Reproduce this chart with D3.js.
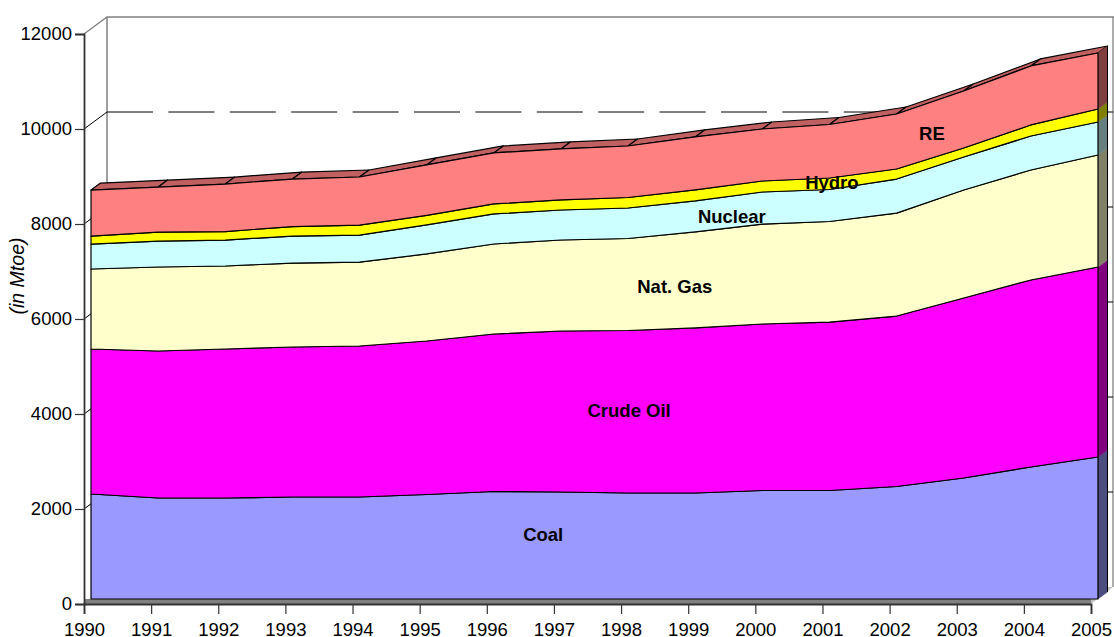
<!DOCTYPE html>
<html>
<head>
<meta charset="utf-8">
<script src="https://cdn.jsdelivr.net/npm/d3@7"></script>
<style>
    html, body { margin: 0; padding: 0; background: #fff; }
    svg { display: block; }
    text { font-family: "Liberation Sans", Arial, sans-serif; fill: #000; }
</style>
</head>
<body>
<div id="chart"></div>
<script>
// Values, in Mtoe
const years = [1990, 1991, 1992, 1993, 1994, 1995, 1996, 1997, 1998, 1999, 2000, 2001, 2002, 2003, 2004, 2005];
const coal = [2210, 2126, 2126, 2147, 2147, 2200, 2263, 2253, 2232, 2232, 2284, 2284, 2368, 2547, 2779, 2989];
const crudeOil = [3053, 3095, 3137, 3158, 3179, 3232, 3316, 3389, 3421, 3474, 3505, 3547, 3589, 3789, 3937, 4000];
const natGas = [1684, 1768, 1747, 1768, 1768, 1832, 1895, 1916, 1937, 2021, 2105, 2116, 2168, 2274, 2316, 2358];
const nuclear = [526, 547, 547, 568, 568, 611, 632, 632, 642, 653, 674, 674, 716, 695, 716, 695];
const hydro = [168, 189, 179, 200, 211, 200, 211, 211, 221, 232, 232, 242, 211, 189, 232, 274];
const re = [968, 947, 1000, 1000, 1011, 1063, 1074, 1074, 1084, 1116, 1095, 1126, 1158, 1200, 1242, 1179];

const seriesNames = ['Coal', 'Crude Oil', 'Nat. Gas', 'Nuclear', 'Hydro', 'RE'];
const seriesValues = [coal, crudeOil, natGas, nuclear, hydro, re];
const frontColors = ['#9999ff', '#ff00ff', '#ffffcc', '#ccffff', '#ffff00', '#ff8080'];
const sideColors = ['#4d4d80', '#800080', '#808066', '#668080', '#808000', '#804040'];
const yTicks = [0, 2000, 4000, 6000, 8000, 10000, 12000];

// Where the series names sit, in chart units (year, Mtoe)
const labelYears = [1996.84, 1998.12, 1998.8, 1999.65, 2001.14, 2002.63];
const labelValues = [1453, 4063, 6674, 8147, 8863, 9895];

const width = 1114;
const height = 637;

const x = d3.scalePoint().domain(years).range([84, 1091]);
const xLabel = d3.scaleLinear().domain([1990, 2005]).range([84, 1091]);
const y = d3.scaleLinear().domain([0, 12000]).range([604, 34]);

// Fake 3D offsets: the walls sit behind the axis, the areas in between
const wall = { dx: 23, dy: -17 };
const plane = { dx: 7, dy: -5 };
const depth = { dx: 9.5, dy: -7 };

const svg = d3.select('#chart').append('svg')
    .attr('width', width)
    .attr('height', height)
    .attr('viewBox', [0, 0, width, height]);

// Stack the series
const rows = years.map((year, i) => {
    const row = { year };
    seriesNames.forEach((name, s) => { row[name] = seriesValues[s][i]; });
    return row;
});
const stacked = d3.stack().keys(seriesNames)(rows);

const px = d => x(d.data.year) + plane.dx;

// --- Walls and floor ---
const wallColor = '#808080';
const wallRight = x(2005) + 22;
svg.append('path')
    .attr('d', `M${x(1990)},${y(12000)} L${x(1990) + wall.dx},${y(12000) + wall.dy} L${width},${y(12000) + wall.dy}`)
    .attr('fill', 'none').attr('stroke', wallColor).attr('stroke-width', 1.3);
svg.append('line')
    .attr('x1', x(1990) + wall.dx).attr('x2', x(1990) + wall.dx)
    .attr('y1', y(12000) + wall.dy).attr('y2', y(0) + wall.dy)
    .attr('stroke', wallColor).attr('stroke-width', 1.5);
svg.append('line')
    .attr('x1', wallRight).attr('x2', wallRight)
    .attr('y1', y(12000) + wall.dy).attr('y2', y(0) + wall.dy)
    .attr('stroke', wallColor).attr('stroke-width', 1.3);

// Floor
svg.append('path')
    .attr('d', `M${x(1990)},${y(0)} L${x(1990) + wall.dx},${y(0) + wall.dy} L${wallRight},${y(0) + wall.dy} L${x(2005)},${y(0)} Z`)
    .attr('fill', '#c0c0c0');
svg.append('rect')
    .attr('x', x(1990)).attr('y', y(0) - 5)
    .attr('width', x(2005) - x(1990)).attr('height', 5)
    .attr('fill', '#808080');

// Gridlines on the back wall, with the diagonal step to the axis
yTicks.filter(t => t > 0 && t < 12000).forEach(t => {
    svg.append('line')
        .attr('x1', x(1990)).attr('y1', y(t))
        .attr('x2', x(1990) + wall.dx).attr('y2', y(t) + wall.dy)
        .attr('stroke', '#000').attr('stroke-width', 1);
    svg.append('line')
        .attr('x1', x(1990) + wall.dx).attr('x2', 906)
        .attr('y1', y(t) + wall.dy).attr('y2', y(t) + wall.dy)
        .attr('stroke', '#000').attr('stroke-width', 1)
        .attr('stroke-dasharray', '46,15.4');
    svg.append('line')
        .attr('x1', wallRight - 6).attr('x2', wallRight)
        .attr('y1', y(t) + wall.dy).attr('y2', y(t) + wall.dy)
        .attr('stroke', '#000').attr('stroke-width', 1);
});

// --- Top face of the stack, one piece per year step ---
const topLayer = stacked[stacked.length - 1];
const topFace = svg.append('g');
d3.pairs(topLayer).forEach(([a, b]) => {
    const ax = px(a), ay = y(a[1]) + plane.dy;
    const bx = px(b), by = y(b[1]) + plane.dy;
    topFace.append('path')
        .attr('d', `M${ax},${ay} L${ax + depth.dx},${ay + depth.dy} L${bx + depth.dx},${by + depth.dy} L${bx},${by} Z`)
        .attr('fill', '#c06060')
        .attr('stroke', '#000')
        .attr('stroke-width', 1.2)
        .attr('stroke-linejoin', 'round');
});

// --- Right side faces ---
const last = years.length - 1;
svg.append('g').selectAll('path')
    .data(stacked)
    .join('path')
    .attr('d', layer => {
        const d = layer[last];
        const sx = px(d);
        const y0 = y(d[0]) + plane.dy;
        const y1 = y(d[1]) + plane.dy;
        return `M${sx},${y0} L${sx + depth.dx},${y0 + depth.dy} L${sx + depth.dx},${y1 + depth.dy} L${sx},${y1} Z`;
    })
    .attr('fill', (d, i) => sideColors[i])
    .attr('stroke', (d, i) => sideColors[i])
    .attr('stroke-width', 0.5);
svg.append('path')
    .attr('d', () => {
        const d = topLayer[last];
        const sx = px(d) + depth.dx;
        return `M${sx},${y(d[1]) + plane.dy + depth.dy} L${sx},${y(0) + plane.dy + depth.dy}`;
    })
    .attr('stroke', '#000').attr('stroke-width', 1);

// --- Front faces ---
const area = d3.area()
    .x(px)
    .y0(d => y(d[0]) + plane.dy)
    .y1(d => y(d[1]) + plane.dy);

svg.append('g').selectAll('path')
    .data(stacked)
    .join('path')
    .attr('d', area)
    .attr('fill', (d, i) => frontColors[i])
    .attr('stroke', '#000')
    .attr('stroke-width', 1.2)
    .attr('stroke-linejoin', 'round');

// --- Axes ---
const yAxis = d3.axisLeft(y).tickValues(yTicks).tickSize(9).tickPadding(3).tickFormat(d3.format('d'));
const xAxis = d3.axisBottom(x).tickSize(10).tickPadding(9).tickFormat(d3.format('d'));

const gy = svg.append('g').attr('transform', `translate(${x(1990)},0)`).call(yAxis);
const gx = svg.append('g').attr('transform', `translate(0,${y(0)})`).call(xAxis);

[gy, gx].forEach(g => {
    g.selectAll('text')
        .style('font-size', '18.5px')
        .style('font-family', '"Liberation Sans", Arial, sans-serif')
        .attr('fill', '#000');
    g.selectAll('.tick line').attr('stroke', '#333').attr('stroke-width', 1.2);
    g.select('.domain').attr('stroke', '#333').attr('stroke-width', 1.8);
});

svg.append('text')
    .attr('transform', 'translate(24,276) rotate(-90)')
    .attr('text-anchor', 'middle')
    .style('font-size', '19.5px')
    .style('font-style', 'italic')
    .text('(in Mtoe)');

// --- Labels inside the areas ---
svg.append('g').selectAll('text')
    .data(seriesNames)
    .join('text')
    .attr('x', (d, i) => xLabel(labelYears[i]))
    .attr('y', (d, i) => y(labelValues[i]))
    .attr('dy', '0.35em')
    .attr('text-anchor', 'middle')
    .style('font-size', '18.5px')
    .style('font-weight', 'bold')
    .text(d => d);
</script>
</body>
</html>
